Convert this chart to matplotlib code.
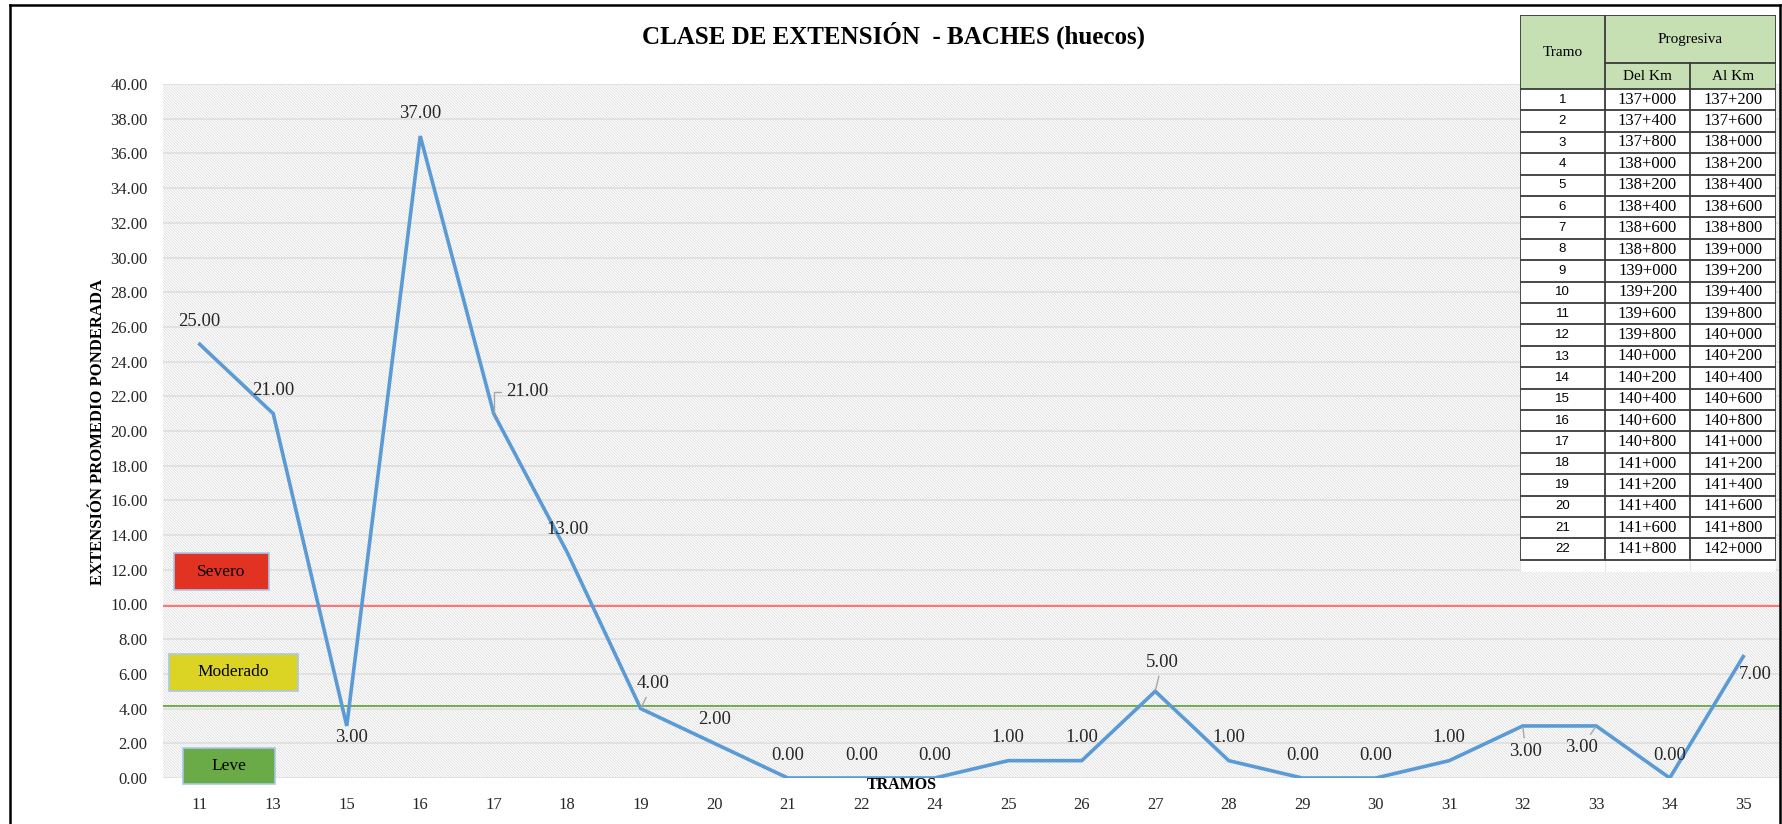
import matplotlib
matplotlib.use("Agg")
import matplotlib.pyplot as plt
from matplotlib.patches import Rectangle
from matplotlib.lines import Line2D

# datos del grafico
tramos = ['11', '13', '15', '16', '17', '18', '19', '20', '21', '22', '24',
          '25', '26', '27', '28', '29', '30', '31', '32', '33', '34', '35']
extension = [25, 21, 3, 37, 21, 13, 4, 2, 0, 0, 0,
             1, 1, 5, 1, 0, 0, 1, 3, 3, 0, 7]
limite_severo = 9.9
limite_leve = 4.15
y_ticks = list(range(0, 41, 2))

# tabla de progresivas
tabla_tramo = [str(i) for i in range(1, 23)]
tabla_del = ['137+000', '137+400', '137+800', '138+000', '138+200', '138+400',
             '138+600', '138+800', '139+000', '139+200', '139+600', '139+800',
             '140+000', '140+200', '140+400', '140+600', '140+800', '141+000',
             '141+200', '141+400', '141+600', '141+800']
tabla_al = ['137+200', '137+600', '138+000', '138+200', '138+400', '138+600',
            '138+800', '139+000', '139+200', '139+400', '139+800', '140+000',
            '140+200', '140+400', '140+600', '140+800', '141+000', '141+200',
            '141+400', '141+600', '141+800', '142+000']

# desplazamiento de las etiquetas (pixeles) y si llevan linea guia
label_offsets = [(0, 23), (0, 23), (5, -12), (0, 23), (34, 22), (0, 23),
                 (12, 25), (0, 24), (0, 22), (0, 22), (0, 22), (0, 23),
                 (0, 23), (7, 29), (0, 23), (0, 22), (0, 22), (0, 23),
                 (3, -26), (-15, -22), (0, 23), (12, -18)]
leader = {4: 'elbow', 6: 'line', 13: 'line', 18: 'line', 19: 'line'}

W, H = 1783, 824
plt.rcParams['font.family'] = ['Liberation Serif', 'DejaVu Serif']
plt.rcParams['hatch.color'] = '#d4d4d4'
plt.rcParams['hatch.linewidth'] = 0.45

fig = plt.figure(figsize=(W / 100, H / 100), dpi=100)


def fx(px):
    return px / W


def fy(py):
    return 1 - py / H


ax = fig.add_axes([fx(163), fy(778), fx(1780) - fx(163), fy(84) - fy(778)])
ax.patch.set_facecolor('white')
ax.add_patch(Rectangle((0, 0), 1, 1, transform=ax.transAxes, facecolor='white',
                       edgecolor='#d4d4d4', linewidth=0, hatch='\\' * 12, zorder=0))

x = list(range(len(tramos)))
ax.plot(x, extension, color='#5b9bd5', linewidth=2.6, zorder=4,
        solid_joinstyle='miter')
ax.axhline(limite_severo, color='#ff7373', linewidth=1.4, zorder=3)
ax.axhline(limite_leve, color='#70ad47', linewidth=1.4, zorder=3)

ax.set_xlim(-0.5, len(tramos) - 0.5)
ax.set_ylim(0, 40)
ax.set_yticks(y_ticks)
ax.set_yticklabels(['%.2f' % v for v in y_ticks])
ax.set_xticks(x)
ax.set_xticklabels(tramos)
ax.tick_params(axis='both', length=0, labelsize=12, labelcolor='#262626')
ax.tick_params(axis='y', pad=11)
ax.tick_params(axis='x', pad=14)
ax.yaxis.grid(True, color='#e0e0e0', linewidth=1.3, zorder=1)
ax.set_axisbelow(True)
for sp in ax.spines.values():
    sp.set_visible(False)

for i, v in enumerate(extension):
    kw = {}
    if i in leader:
        cs = 'angle,angleA=0,angleB=90,rad=0' if leader[i] == 'elbow' else 'arc3'
        kw['arrowprops'] = dict(arrowstyle='-', color='#a6a6a6', lw=1.0,
                                shrinkA=2, shrinkB=1, connectionstyle=cs)
    ax.annotate('%.2f' % v, (i, v), xytext=label_offsets[i],
                textcoords='offset pixels', ha='center', va='center',
                fontsize=13.5, color='#262626', zorder=6, **kw)

# titulo y ejes
fig.text(fx(894), fy(35), 'CLASE DE EXTENSIÓN  - BACHES (huecos)',
         ha='center', va='center', fontsize=18, fontweight='bold')
fig.text(fx(98), fy(432), 'EXTENSIÓN PROMEDIO PONDERADA', rotation=90,
         ha='center', va='center', fontsize=12, fontweight='bold')
fig.text(fx(902), fy(785), 'TRAMOS', ha='center', va='center',
         fontsize=11.5, fontweight='bold')

# cuadros de clase
cajas = [('Severo', '#e23322', 174, 553, 269, 590),
         ('Moderado', '#dcd425', 169, 654, 298, 691),
         ('Leve', '#6aaa47', 183, 748, 275, 784)]
for txt, col, x0, y0, x1, y1 in cajas:
    fig.patches.append(Rectangle((fx(x0), fy(y1)), fx(x1) - fx(x0), fy(y0) - fy(y1),
                                 transform=fig.transFigure, facecolor=col,
                                 edgecolor='#a9c8e8', linewidth=1.2, zorder=5))
    fig.text(fx((x0 + x1) / 2), fy((y0 + y1) / 2), txt, ha='center', va='center',
             fontsize=12.5, zorder=6)

# tabla de progresivas
tx0, ty0, tx1, ty1 = 1520, 15, 1776, 572
tab = fig.add_axes([fx(tx0), fy(ty1), fx(tx1) - fx(tx0), fy(ty0) - fy(ty1)])
tab.set_xlim(0, tx1 - tx0)
tab.set_ylim(ty1 - ty0, 0)
tab.axis('off')
cols = [0, 85, 170, 256]
h_top, h_bot, row_h = 48, 74, 21.4
n = len(tabla_tramo)
edge = '#3a3a3a'
tab.add_patch(Rectangle((0, 0), 256, h_bot, facecolor='#c6e0b4', edgecolor='none'))
tab.add_patch(Rectangle((0, h_bot), 256, n * row_h, facecolor='white', edgecolor='none'))
tab.add_patch(Rectangle((0, h_bot + n * row_h), 256, ty1 - ty0 - h_bot - n * row_h,
                        facecolor='white', edgecolor='none'))
for c in cols:
    y_start = h_top if c == 170 else 0
    tab.plot([c, c], [y_start, h_bot + n * row_h], color=edge, lw=1.3)
    tab.plot([c, c], [h_bot + n * row_h, ty1 - ty0], color='#e6e6e6', lw=0.8)
tab.plot([0, 256], [0, 0], color=edge, lw=1.3)
tab.plot([85, 256], [h_top, h_top], color=edge, lw=1.3)
for r in range(n + 1):
    yy = h_bot + r * row_h
    tab.plot([0, 256], [yy, yy], color=edge, lw=1.3)
tab.text(42.5, h_bot / 2, 'Tramo', ha='center', va='center', fontsize=11)
tab.text(170.5, h_top / 2, 'Progresiva', ha='center', va='center', fontsize=11)
tab.text(127.5, (h_top + h_bot) / 2, 'Del Km', ha='center', va='center', fontsize=11)
tab.text(213, (h_top + h_bot) / 2, 'Al Km', ha='center', va='center', fontsize=11)
for r in range(n):
    yc = h_bot + (r + 0.5) * row_h
    tab.text(42.5, yc, tabla_tramo[r], ha='center', va='center', fontsize=9.5,
             family=['Liberation Sans', 'DejaVu Sans'])
    tab.text(127.5, yc, tabla_del[r], ha='center', va='center', fontsize=12)
    tab.text(213, yc, tabla_al[r], ha='center', va='center', fontsize=12)

# marco del grafico
for xs, ys in [([10, 10], [5, 824]), ([10, 1780], [5, 5]), ([1780, 1780], [5, 824])]:
    fig.add_artist(Line2D([fx(a) for a in xs], [fy(b) for b in ys],
                          transform=fig.transFigure, color='black', linewidth=1.8))

fig.savefig('out.png', dpi=100)
